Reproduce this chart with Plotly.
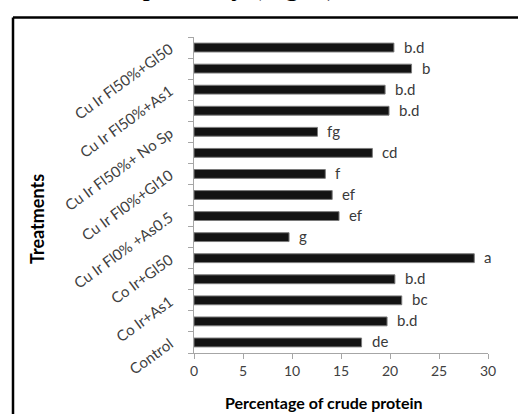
import plotly.graph_objects as go

# Crude protein (%) per treatment, listed bottom to top
protein = [17.1, 19.7, 21.2, 20.5, 28.6, 9.7, 14.8, 14.1, 13.4, 18.2, 12.6, 19.9, 19.5, 22.2, 20.4]
groups = ["de", "b.d", "bc", "b.d", "a", "g", "ef", "ef", "f", "cd", "fg", "b.d", "b.d", "b", "b.d"]

# Category labels shown on every other bar (positions 1, 3, ..., 15)
label_positions = [1, 3, 5, 7, 9, 11, 13, 15]
treatment_labels = [
    "Control",
    "Co Ir+As1",
    "Co Ir+Gl50",
    "Cu Ir Fl0% +As0.5",
    "Cu Ir Fl0%+Gl10",
    "Cu Ir Fl50%+ No Sp",
    "Cu Ir Fl50%+As1",
    "Cu Ir Fl50%+Gl50",
]

x_ticks = [0, 5, 10, 15, 20, 25, 30]

positions = list(range(1, len(protein) + 1))

FONT = "Lato, Open Sans, sans-serif"
W, H = 518, 414
ML, MR, MT, MB = 194, 30, 37, 61
pw = W - ML - MR
ph = H - MT - MB


def px_x(px):
    return (px - ML) / pw


def px_y(py):
    return 1 - (py - MT) / ph


fig = go.Figure()
fig.add_trace(go.Bar(
    x=protein,
    y=positions,
    orientation="h",
    width=0.42,
    marker=dict(color="#131313", line=dict(color="#7a7a7a", width=1)),
    hoverinfo="x",
))

annotations = []
for v, p, g in zip(protein, positions, groups):
    annotations.append(dict(
        x=v, y=p, xref="x", yref="y", text=g, showarrow=False,
        xanchor="left", yanchor="middle", xshift=8, yshift=1,
        font=dict(family=FONT, size=15, color="#3a3a3a"),
    ))

# Axis titles
annotations.append(dict(
    x=px_x(324), y=px_y(402), xref="paper", yref="paper",
    text="<b>Percentage of crude protein</b>", showarrow=False,
    xanchor="center", yanchor="middle",
    font=dict(family=FONT, size=16, color="#000"),
))
annotations.append(dict(
    x=px_x(37), y=px_y(219), xref="paper", yref="paper",
    text="<b>Treatments</b>", showarrow=False, textangle=-90,
    xanchor="center", yanchor="middle",
    font=dict(family=FONT, size=18, color="#000"),
))

# Running text of the surrounding page, cut off at the top edge
annotations.append(dict(
    x=px_x(108), y=px_y(-15),
    xref="paper", yref="paper", text="respectively (Fig. 1).", showarrow=False,
    xanchor="left", yanchor="middle",
    font=dict(family="Liberation Serif, Times New Roman, serif", size=28, color="#000"),
))

# Outer frame (left and top edges; the rest runs past the page)
shapes = [
    dict(type="line", xref="paper", yref="paper",
         x0=px_x(13), y0=px_y(420), x1=px_x(13), y1=px_y(17.5),
         line=dict(color="#000", width=2.5)),
    dict(type="line", xref="paper", yref="paper",
         x0=px_x(13), y0=px_y(17.5), x1=px_x(525), y1=px_y(17.5),
         line=dict(color="#000", width=2.5)),
]

fig.update_layout(
    width=W, height=H,
    margin=dict(l=ML, r=MR, t=MT, b=MB, pad=0),
    paper_bgcolor="white", plot_bgcolor="white",
    showlegend=False,
    annotations=annotations,
    shapes=shapes,
)

fig.update_xaxes(
    range=[0, 30], tickvals=x_ticks, ticktext=[str(t) for t in x_ticks],
    showgrid=False, zeroline=False,
    showline=True, linecolor="#a6a6a6", linewidth=1,
    ticks="outside", ticklen=5, tickcolor="#a6a6a6",
    tickfont=dict(family=FONT, size=14, color="#404040"),
)

fig.update_yaxes(
    range=[0.5, 15.5], tickmode="array", tickvals=label_positions, ticktext=treatment_labels,
    tickangle=-36, showgrid=False, zeroline=False,
    showline=True, linecolor="#a6a6a6", linewidth=1,
    ticks="", ticklabelstandoff=20,
    minor=dict(tickmode="array", tickvals=[i + 0.5 for i in range(0, 16)],
               ticks="outside", ticklen=5, tickcolor="#a6a6a6", showgrid=False),
    tickfont=dict(family=FONT, size=15, color="#404040"),
)

fig.write_html("out.html")
